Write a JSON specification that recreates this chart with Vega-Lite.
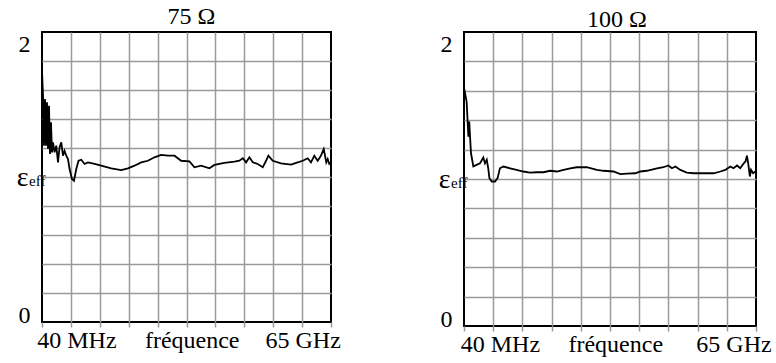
{
  "$schema": "https://vega.github.io/schema/vega-lite/v6.json",
  "background": "white",
  "padding": {"left": 15, "top": 4, "right": 2, "bottom": 5},
  "spacing": 95,
  "config": {
    "font": "Liberation Serif",
    "view": {"stroke": "black", "strokeWidth": 2},
    "title": {"font": "Liberation Serif", "fontSize": 24, "fontWeight": "normal", "color": "black", "anchor": "middle", "frame": "group"},
    "axis": {"labelFont": "Liberation Serif", "labelColor": "black", "title": null, "domain": false, "labelFlush": false, "labelOverlap": false, "labelBound": false}
  },
  "hconcat": [
    {
      "width": 289,
      "height": 290,
      "title": {"text": "75  Ω", "offset": 3, "dx": 5},
      "encoding": {
        "x": {"field": "f", "type": "quantitative", "scale": {"domain": [0, 10], "nice": false, "zero": false},
          "axis": {"values": [0,1,2,3,4,5,6,7,8,9,10,1.19,5.18,9.02], "grid": true, "gridColor": "#9a9a9a", "gridWidth": 1.5,
            "gridOpacity": {"condition": {"test": "datum.value % 1 != 0 || datum.value == 0 || datum.value == 10", "value": 0}, "value": 1},
            "ticks": true, "tickSize": 5, "tickColor": "#9a9a9a", "tickWidth": 1.5,
            "tickOpacity": {"condition": {"test": "datum.value % 1 != 0", "value": 0}, "value": 1},
            "labelPadding": 1, "labelFontSize": 24,
            "labelExpr": "datum.value == 1.19 ? '40 MHz' : datum.value == 5.18 ? 'fréquence' : datum.value == 9.02 ? '65 GHz' : ''"}},
        "y": {"field": "e", "type": "quantitative", "scale": {"domain": [0, 2], "nice": false, "zero": false},
          "axis": {"values": [0,0.2,0.4,0.6,0.8,1,1.2,1.4,1.6,1.8,2], "grid": true, "gridColor": "#9a9a9a", "gridWidth": 1.5,
            "gridOpacity": {"condition": {"test": "datum.value == 0 || datum.value == 2", "value": 0}, "value": 1},
            "ticks": false,
            "labelPadding": {"condition": {"test": "datum.value == 1", "value": 14}, "value": 12},
            "labelFontSize": {"condition": {"test": "datum.value == 1", "value": 28}, "value": 24},
            "labelBaseline": {"condition": [{"test": "datum.value == 0", "value": "alphabetic"}, {"test": "datum.value == 2", "value": "top"}], "value": "middle"},
            "labelExpr": "datum.value == 0 ? '0' : datum.value == 2 ? '2' : datum.value == 1 ? 'ε' : ''"}}
      },
      "layer": [
        {
          "data": {"values": [
            {"f":0,"e":1.733},{"f":0.035,"e":1.561},{"f":0.069,"e":1.216},{"f":0.104,"e":1.538},{"f":0.138,"e":1.216},
            {"f":0.173,"e":1.515},{"f":0.207,"e":1.193},{"f":0.242,"e":1.492},{"f":0.277,"e":1.159},{"f":0.311,"e":1.377},
            {"f":0.346,"e":1.17},{"f":0.38,"e":1.239},{"f":0.436,"e":1.17},{"f":0.494,"e":1.216},{"f":0.553,"e":1.101},
            {"f":0.608,"e":1.205},{"f":0.667,"e":1.239},{"f":0.726,"e":1.147},{"f":0.781,"e":1.181},{"f":0.84,"e":1.147},
            {"f":0.899,"e":1.124},{"f":0.954,"e":1.055},{"f":1.037,"e":0.986},{"f":1.106,"e":0.974},{"f":1.186,"e":1.055},
            {"f":1.265,"e":1.112},{"f":1.358,"e":1.119},{"f":1.473,"e":1.09},{"f":1.59,"e":1.101},{"f":1.818,"e":1.09},
            {"f":2.05,"e":1.078},{"f":2.395,"e":1.06},{"f":2.741,"e":1.048},{"f":2.973,"e":1.06},{"f":3.201,"e":1.078},
            {"f":3.432,"e":1.101},{"f":3.664,"e":1.112},{"f":3.892,"e":1.136},{"f":4.123,"e":1.152},{"f":4.355,"e":1.147},
            {"f":4.584,"e":1.147},{"f":4.815,"e":1.112},{"f":5.102,"e":1.108},{"f":5.275,"e":1.067},{"f":5.506,"e":1.078},
            {"f":5.793,"e":1.06},{"f":5.966,"e":1.083},{"f":6.312,"e":1.097},{"f":6.657,"e":1.106},{"f":6.83,"e":1.112},
            {"f":6.948,"e":1.129},{"f":7.062,"e":1.101},{"f":7.176,"e":1.136},{"f":7.293,"e":1.101},{"f":7.466,"e":1.09},
            {"f":7.639,"e":1.067},{"f":7.753,"e":1.112},{"f":7.833,"e":1.147},{"f":7.985,"e":1.112},{"f":8.271,"e":1.094},
            {"f":8.617,"e":1.085},{"f":8.849,"e":1.101},{"f":9.022,"e":1.112},{"f":9.194,"e":1.129},{"f":9.308,"e":1.101},
            {"f":9.423,"e":1.147},{"f":9.539,"e":1.112},{"f":9.653,"e":1.147},{"f":9.748,"e":1.193},{"f":9.793,"e":1.147},
            {"f":9.837,"e":1.101},{"f":9.886,"e":1.124},{"f":9.941,"e":1.09},{"f":10,"e":1.101}
          ]},
          "mark": {"type": "line", "color": "black", "strokeWidth": 1.8}
        },
        {
          "data": {"values": [{"f": 0, "e": 1, "t": "eff"}]},
          "mark": {"type": "text", "align": "left", "baseline": "alphabetic", "dx": -13, "dy": 9, "fontSize": 15, "font": "Liberation Serif", "color": "black"},
          "encoding": {"text": {"field": "t"}}
        }
      ]
    },
    {
      "width": 292,
      "height": 294,
      "title": {"text": "100 Ω", "offset": 0, "dx": 7},
      "encoding": {
        "x": {"field": "f", "type": "quantitative", "scale": {"domain": [0, 10], "nice": false, "zero": false},
          "axis": {"values": [0,1,2,3,4,5,6,7,8,9,10,1.23,5.18,9.23], "grid": true, "gridColor": "#9a9a9a", "gridWidth": 1.5,
            "gridOpacity": {"condition": {"test": "datum.value % 1 != 0 || datum.value == 0 || datum.value == 10", "value": 0}, "value": 1},
            "ticks": true, "tickSize": 5, "tickColor": "#9a9a9a", "tickWidth": 1.5,
            "tickOpacity": {"condition": {"test": "datum.value % 1 != 0", "value": 0}, "value": 1},
            "labelPadding": 1, "labelFontSize": 24,
            "labelExpr": "datum.value == 1.23 ? '40 MHz' : datum.value == 5.18 ? 'fréquence' : datum.value == 9.23 ? '65 GHz' : ''"}},
        "y": {"field": "e", "type": "quantitative", "scale": {"domain": [0, 2], "nice": false, "zero": false},
          "axis": {"values": [0,0.2,0.4,0.6,0.8,1,1.2,1.4,1.6,1.8,2], "grid": true, "gridColor": "#9a9a9a", "gridWidth": 1.5,
            "gridOpacity": {"condition": {"test": "datum.value == 0 || datum.value == 2", "value": 0}, "value": 1},
            "ticks": false,
            "labelPadding": {"condition": {"test": "datum.value == 1", "value": 14}, "value": 12},
            "labelFontSize": {"condition": {"test": "datum.value == 1", "value": 28}, "value": 24},
            "labelBaseline": {"condition": [{"test": "datum.value == 0", "value": "alphabetic"}, {"test": "datum.value == 2", "value": "top"}], "value": "middle"},
            "labelExpr": "datum.value == 0 ? '0' : datum.value == 2 ? '2' : datum.value == 1 ? 'ε' : ''"}}
      },
      "layer": [
        {
          "data": {"values": [
            {"f":0.01,"e":1.612},{"f":0.09,"e":1.525},{"f":0.15,"e":1.288},{"f":0.18,"e":1.39},{"f":0.21,"e":1.277},
            {"f":0.24,"e":1.175},{"f":0.32,"e":1.085},{"f":0.43,"e":1.096},{"f":0.55,"e":1.107},{"f":0.66,"e":1.146},
            {"f":0.72,"e":1.107},{"f":0.78,"e":1.13},{"f":0.83,"e":1.073},{"f":0.87,"e":1.006},{"f":0.95,"e":0.983},
            {"f":1.06,"e":0.983},{"f":1.15,"e":1.006},{"f":1.23,"e":1.073},{"f":1.35,"e":1.085},{"f":1.58,"e":1.073},
            {"f":1.8,"e":1.062},{"f":2.03,"e":1.051},{"f":2.26,"e":1.044},{"f":2.49,"e":1.046},{"f":2.72,"e":1.046},
            {"f":2.95,"e":1.056},{"f":3.18,"e":1.051},{"f":3.41,"e":1.062},{"f":3.64,"e":1.073},{"f":3.86,"e":1.08},
            {"f":4.2,"e":1.08},{"f":4.55,"e":1.062},{"f":4.78,"e":1.056},{"f":5.12,"e":1.051},{"f":5.35,"e":1.033},
            {"f":5.58,"e":1.037},{"f":5.87,"e":1.039},{"f":6.04,"e":1.051},{"f":6.26,"e":1.056},{"f":6.61,"e":1.073},
            {"f":6.83,"e":1.08},{"f":7.0,"e":1.092},{"f":7.12,"e":1.073},{"f":7.24,"e":1.085},{"f":7.41,"e":1.062},
            {"f":7.63,"e":1.044},{"f":7.86,"e":1.039},{"f":8.21,"e":1.039},{"f":8.55,"e":1.039},{"f":8.78,"e":1.051},
            {"f":8.95,"e":1.062},{"f":9.12,"e":1.085},{"f":9.23,"e":1.073},{"f":9.35,"e":1.092},{"f":9.46,"e":1.073},
            {"f":9.58,"e":1.107},{"f":9.64,"e":1.119},{"f":9.69,"e":1.159},{"f":9.74,"e":1.096},{"f":9.79,"e":1.017},
            {"f":9.83,"e":1.062},{"f":9.9,"e":1.039},{"f":9.98,"e":1.051}
          ]},
          "mark": {"type": "line", "color": "black", "strokeWidth": 1.8}
        },
        {
          "data": {"values": [{"f": 0, "e": 1, "t": "eff"}]},
          "mark": {"type": "text", "align": "left", "baseline": "alphabetic", "dx": -13, "dy": 9, "fontSize": 15, "font": "Liberation Serif", "color": "black"},
          "encoding": {"text": {"field": "t"}}
        }
      ]
    }
  ]
}
